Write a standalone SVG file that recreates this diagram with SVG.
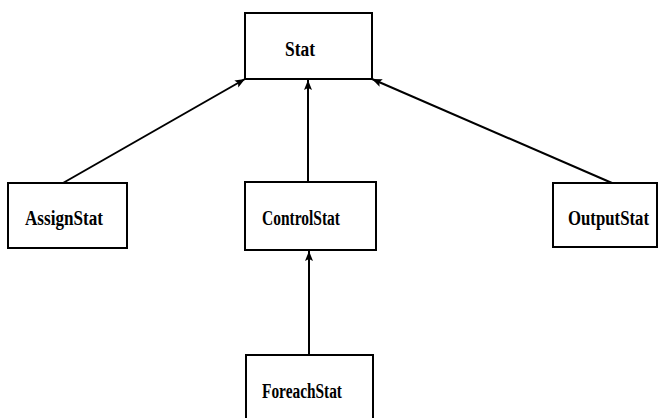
<svg xmlns="http://www.w3.org/2000/svg" width="668" height="418" viewBox="0 0 668 418">
  <style>
    .box { fill: #ffffff; stroke: #000000; stroke-width: 2; }
    .label { font-family: "Liberation Serif", "Times New Roman", serif; font-weight: bold; font-size: 20px; fill: #000000; }
    .edge { stroke: #000000; stroke-width: 2; fill: none; marker-end: url(#arrow); }
  </style>
  <defs>
    <marker id="arrow" viewBox="0 0 10 10" refX="10" refY="5" markerWidth="10" markerHeight="10" markerUnits="userSpaceOnUse" orient="auto">
      <path d="M0,1 L10,5 L0,9 L2,5 Z" fill="#000000"/>
    </marker>
  </defs>
  <rect width="668" height="418" fill="#ffffff"/>

  <g id="connectors">
    <line class="edge" x1="63" y1="183" x2="245" y2="79"/>
    <line class="edge" x1="308" y1="182" x2="308" y2="80"/>
    <line class="edge" x1="612" y1="183" x2="372" y2="79"/>
    <line class="edge" x1="309" y1="355" x2="309" y2="251"/>
  </g>

  <g id="Stat">
    <rect class="box" x="245" y="13" width="127" height="66"/>
    <text class="label" x="285" y="56" textLength="30" lengthAdjust="spacingAndGlyphs">Stat</text>
  </g>
  <g id="AssignStat">
    <rect class="box" x="8" y="183" width="119" height="65"/>
    <text class="label" x="25" y="225" textLength="78" lengthAdjust="spacingAndGlyphs">AssignStat</text>
  </g>
  <g id="ControlStat">
    <rect class="box" x="245" y="182" width="131" height="68"/>
    <text class="label" x="262" y="225" textLength="78" lengthAdjust="spacingAndGlyphs">ControlStat</text>
  </g>
  <g id="OutputStat">
    <rect class="box" x="553" y="183" width="104" height="64"/>
    <text class="label" x="568" y="225" textLength="81" lengthAdjust="spacingAndGlyphs">OutputStat</text>
  </g>
  <g id="ForeachStat">
    <rect class="box" x="246" y="355" width="127" height="70"/>
    <text class="label" x="262" y="398" textLength="80" lengthAdjust="spacingAndGlyphs">ForeachStat</text>
  </g>
</svg>
